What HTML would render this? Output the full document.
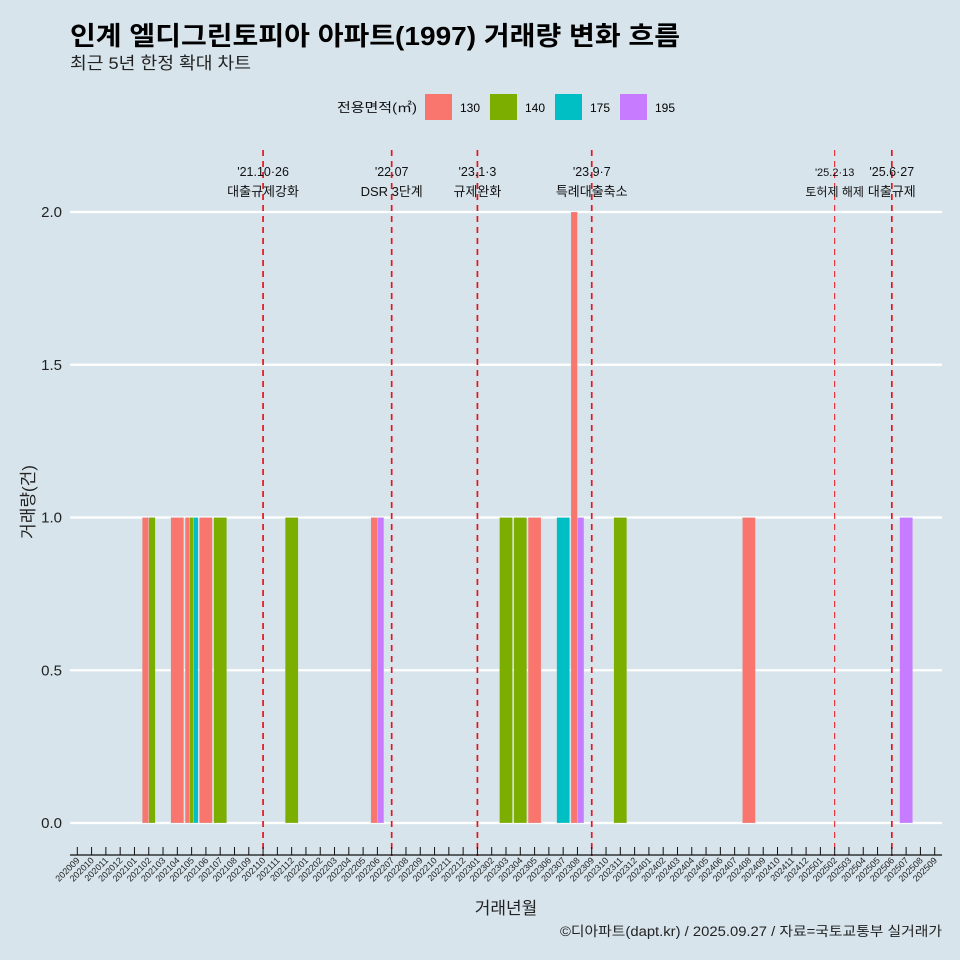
<!DOCTYPE html>
<html><head><meta charset="utf-8"><style>
body{margin:0;background:#d7e4ec;}
svg{display:block;font-family:"Liberation Sans","Noto Sans CJK KR",sans-serif;}
</style></head><body>
<svg id="chart" width="960" height="960" viewBox="0 0 960 960">
<rect width="960" height="960" fill="#d7e4ec"/>
<text x="70" y="45" font-size="26" font-weight="bold" fill="#000" textLength="610" lengthAdjust="spacingAndGlyphs">인계 엘디그린토피아 아파트(1997) 거래량 변화 흐름</text>
<text x="70" y="69" font-size="17" fill="#222" textLength="181" lengthAdjust="spacingAndGlyphs">최근 5년 한정 확대 차트</text>
<g>
<text x="337" y="112" font-size="13" fill="#111" textLength="80" lengthAdjust="spacingAndGlyphs">전용면적(㎡)</text>
<rect x="425" y="94" width="27" height="26" fill="#f8766d"/>
<text x="460" y="112" font-size="12">130</text>
<rect x="490" y="94" width="27" height="26" fill="#7cae00"/>
<text x="525" y="112" font-size="12">140</text>
<rect x="555" y="94" width="27" height="26" fill="#00bfc4"/>
<text x="590" y="112" font-size="12">175</text>
<rect x="620" y="94" width="27" height="26" fill="#c77cff"/>
<text x="655" y="112" font-size="12">195</text>
</g>
<g id="grid"></g><g id="bars"></g><g id="events"></g><g id="xaxis"></g>
<text transform="translate(34,502) rotate(-90)" text-anchor="middle" font-size="17" fill="#222">거래량(건)</text>
<text x="506" y="914" text-anchor="middle" font-size="17" fill="#222">거래년월</text>
<text x="942" y="936" text-anchor="end" font-size="13.5" fill="#222" textLength="382" lengthAdjust="spacingAndGlyphs">©디아파트(dapt.kr) / 2025.09.27 / 자료=국토교통부 실거래가</text>
</svg>
<script>
const months=[];for(let y=2020,m=9;y<2025||(y===2025&&m<=9);){months.push(y+String(m).padStart(2,'0'));m++;if(m>12){m=1;y++;}}
const yTicks=[0,0.5,1,1.5,2];
const yTickLabels=["0.0","0.5","1.0","1.5","2.0"];
const sizes=["130","140","175","195"];
const colors={"130":"#f8766d","140":"#7cae00","175":"#00bfc4","195":"#c77cff"};
const barMonths=["202102","202102","202104","202105","202105","202105","202106","202107","202112","202206","202206","202303","202304","202305","202307","202308","202308","202311","202408","202507"];
const barSizes=["130","140","130","130","140","175","130","140","140","130","195","140","140","130","175","130","195","140","130","195"];
const barValues=[1,1,1,1,1,1,1,1,1,1,1,1,1,1,1,2,1,1,1,1];
const eventMonths=["202110","202207","202301","202309","202502","202506"];
const eventDates=["'21.10·26","'22.07","'23.1·3","'23.9·7","'25.2·13","'25.6·27"];
const eventTexts=["대출규제강화","DSR 3단계","규제완화","특례대출축소","토허제 해제","대출규제"];
const x0=77.3,step=14.29,y0=823,yScale=305.5;
const xPos=m=>x0+months.indexOf(m)*step;
const yPos=v=>y0-v*yScale;
const NS="http://www.w3.org/2000/svg";
function mk(t,a,p){const e=document.createElementNS(NS,t);for(const k in a)e.setAttribute(k,a[k]);p.appendChild(e);return e;}
const grid=document.getElementById('grid');
yTicks.forEach((v,i)=>{
 const l=mk('line',{x1:70,x2:942,y1:yPos(v),y2:yPos(v),stroke:'#fff','stroke-width':2.2},grid);
 
 
 const t=mk('text',{x:62,y:yPos(v)+5,'text-anchor':'end','font-size':15,fill:'#222'},grid);t.textContent=yTickLabels[i];
 
 
});
const bars=document.getElementById('bars');
const dodge=13;
barMonths.forEach((m,i)=>{
 const idxs=[];barMonths.forEach((mm,j)=>{if(mm===m)idxs.push(j);});
 const n=idxs.length,k=idxs.indexOf(i),w=dodge/n;
 const x=xPos(m)-dodge/2+k*w;
 const r=mk('rect',{x:x,y:yPos(barValues[i]),width:w,height:barValues[i]*yScale,fill:colors[barSizes[i]],stroke:'#d7e4ec','stroke-width':0.3},bars);
 
 
});
const ev=document.getElementById('events');
eventMonths.forEach((m,i)=>{
 const x=xPos(m),thin=m==="202502";
 const l=mk('line',{x1:x,x2:x,y1:150,y2:856,stroke:'#e8141c','stroke-width':thin?1:1.7,'stroke-dasharray':'6,5'},ev);
 
 
 const small=m==="202502";
 const t1=mk('text',{x:x,y:176,'text-anchor':'middle','font-size':small?11:12.5,fill:'#111'},ev);t1.textContent=eventDates[i];
 
 
 const t2=mk('text',{x:x,y:196,'text-anchor':'middle','font-size':small?12:13,fill:'#111'},ev);t2.textContent=eventTexts[i];
 
 
});
const xa=document.getElementById('xaxis');
const al=mk('line',{x1:70,x2:942,y1:855,y2:855,stroke:'#111','stroke-width':1.3},xa);


months.forEach(m=>{
 const x=xPos(m);
 const tk=mk('line',{x1:x,x2:x,y1:847,y2:855,stroke:'#111','stroke-width':1},xa);
 
 
 const t=mk('text',{transform:`translate(${x+3},861) rotate(-45)`,'text-anchor':'end','font-size':9,fill:'#222'},xa);t.textContent=m;
 
 
});
</script>
</body></html>
